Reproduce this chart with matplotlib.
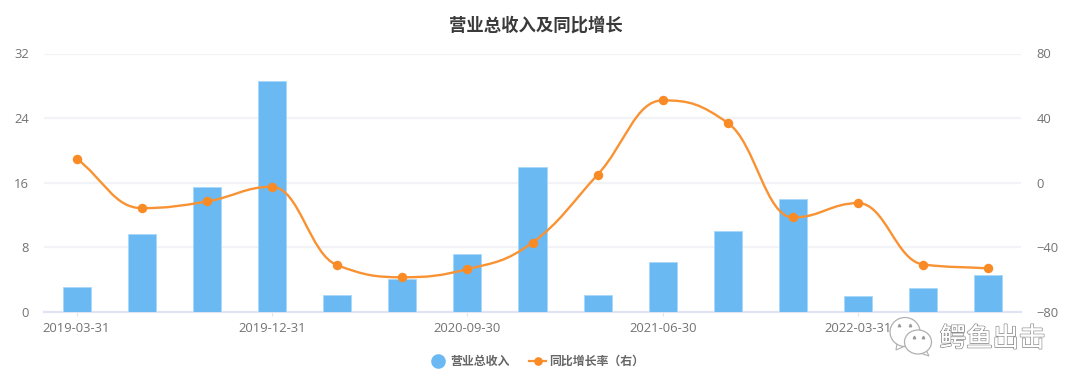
import matplotlib
matplotlib.use('Agg')
import matplotlib.pyplot as plt
import matplotlib.patheffects as pe
from matplotlib.path import Path
from matplotlib.patches import PathPatch, Ellipse, Polygon
import numpy as np

plt.rcParams['font.family'] = ['Noto Sans CJK SC', 'DejaVu Sans']

dates = ['2019-03-31', '2019-06-30', '2019-09-30', '2019-12-31', '2020-03-31',
         '2020-06-30', '2020-09-30', '2020-12-31', '2021-03-31', '2021-06-30',
         '2021-09-30', '2021-12-31', '2022-03-31', '2022-06-30', '2022-09-30']
revenue = [3.1, 9.7, 15.5, 28.6, 2.05, 4.05, 7.2, 17.9, 2.15, 6.15, 10.0, 14.0, 1.95, 3.0, 4.6]
growth = [15, -15.7, -11.6, -2.5, -51, -58.5, -53.5, -37, 5, 51, 37, -21.5, -12.6, -50.6, -53]

W, H = 1080, 386
fig = plt.figure(figsize=(W / 100, H / 100), dpi=100)
ax = fig.add_axes([44 / W, 1 - 312 / H, 977 / W, 258.5 / H])
ax2 = ax.twinx()

# 柱子
x = np.arange(len(dates))
ax.bar(x, revenue, width=0.43, color='#6BB9F3', edgecolor='#A9D8F8', linewidth=0.6, zorder=3)
ax.set_xlim(-0.5, 14.5)
ax.set_ylim(0, 32)
ax.set_yticks([0, 8, 16, 24, 32])
ax.set_xticks(x[::3])
ax.set_xticklabels(dates[::3])
ax.grid(axis='y', color='#F2F3F7', linewidth=1.6, zorder=0)
ax.set_axisbelow(True)
for s in ['top', 'left', 'right']:
    ax.spines[s].set_visible(False)
    ax2.spines[s].set_visible(False)
ax.spines['bottom'].set_color('#E0E4F2')
ax.spines['bottom'].set_linewidth(1.5)
ax2.spines['bottom'].set_visible(False)
ax.tick_params(axis='x', length=3, color='#E0E4F2', labelcolor='#737373', labelsize=9.4, pad=4, labelfontfamily='Open Sans')
ax.tick_params(axis='y', length=0, labelcolor='#737373', labelsize=9.4, pad=11, labelfontfamily='Open Sans')

# 平滑曲线，控制点由相邻数据点算出，极值点处切线放平，并限制斜率
ax2.set_ylim(-80, 80)
ax2.set_yticks([-80, -40, 0, 40, 80])
ax2.tick_params(axis='y', length=0, labelcolor='#737373', labelsize=9.4, pad=11, labelfontfamily='Open Sans')
n = len(x)
slope = []
for i in range(n):
    a = max(i - 1, 0)
    c = min(i + 1, n - 1)
    s = (growth[c] - growth[a]) / (x[c] - x[a])
    if 0 < i < n - 1:
        left = growth[i] - growth[a]
        right = growth[c] - growth[i]
        if left * right <= 0:
            s = 0
        else:
            s = np.sign(s) * min(abs(s), 2 * min(abs(left), abs(right)))
    slope.append(s)
verts = [(x[0], growth[0])]
codes = [Path.MOVETO]
for i in range(n - 1):
    h = (x[i + 1] - x[i]) * 0.42
    verts.append((x[i] + h, growth[i] + slope[i] * h))
    verts.append((x[i + 1] - h, growth[i + 1] - slope[i + 1] * h))
    verts.append((x[i + 1], growth[i + 1]))
    codes += [Path.CURVE4, Path.CURVE4, Path.CURVE4]
ax2.add_patch(PathPatch(Path(verts, codes), facecolor='none', edgecolor='#F99233', linewidth=1.7, zorder=4))
ax2.plot(x, growth, linestyle='none', marker='o', markersize=5.8, color='#F98B26', zorder=5)

fig.text(536 / W, 1 - 25.5 / H, '营业总收入及同比增长', ha='center', va='center',
         fontsize=12.5, fontweight='bold', color='#3A3A3A')

overlay = fig.add_axes([0, 0, 1, 1], zorder=10)
overlay.set_xlim(0, W)
overlay.set_ylim(H, 0)
overlay.axis('off')

# 图例
overlay.plot([438], [361], marker='o', markersize=9.5, color='#6BB9F3', linestyle='none')
overlay.text(450, 361.5, '营业总收入', ha='left', va='center', fontsize=8.6, fontweight='bold', color='#666666')
overlay.plot([529, 546], [361, 361], color='#F99233', linewidth=1.6)
overlay.plot([537.5], [361], marker='o', markersize=5.2, color='#F98B26', linestyle='none')
overlay.text(549, 361.5, '同比增长率（右）', ha='left', va='center', fontsize=8.6, fontweight='bold', color='#666666')

# 水印
grey = '#B0B0B0'
overlay.add_patch(Polygon([(897, 343), (896, 350), (905, 346)], facecolor='white', edgecolor=grey, linewidth=0.8))
overlay.add_patch(Ellipse((905, 332), 30, 29, facecolor='white', edgecolor=grey, linewidth=0.9))
overlay.add_patch(Polygon([(926, 350), (929, 356), (920, 353)], facecolor='white', edgecolor=grey, linewidth=0.8))
overlay.add_patch(Ellipse((918, 342), 27, 24, facecolor='white', edgecolor=grey, linewidth=0.9))
overlay.plot([899, 910, 914, 923], [325, 325, 337, 337], linestyle='none', marker='^', markersize=1.8, color='#9A9A9A')
wm = overlay.text(992.5, 339, '鳄鱼出击', ha='center', va='center', fontsize=19, color='white')
wm.set_path_effects([pe.withStroke(linewidth=1.2, foreground='#8A8A8A'), pe.Normal()])

fig.savefig('out.png', dpi=100)
